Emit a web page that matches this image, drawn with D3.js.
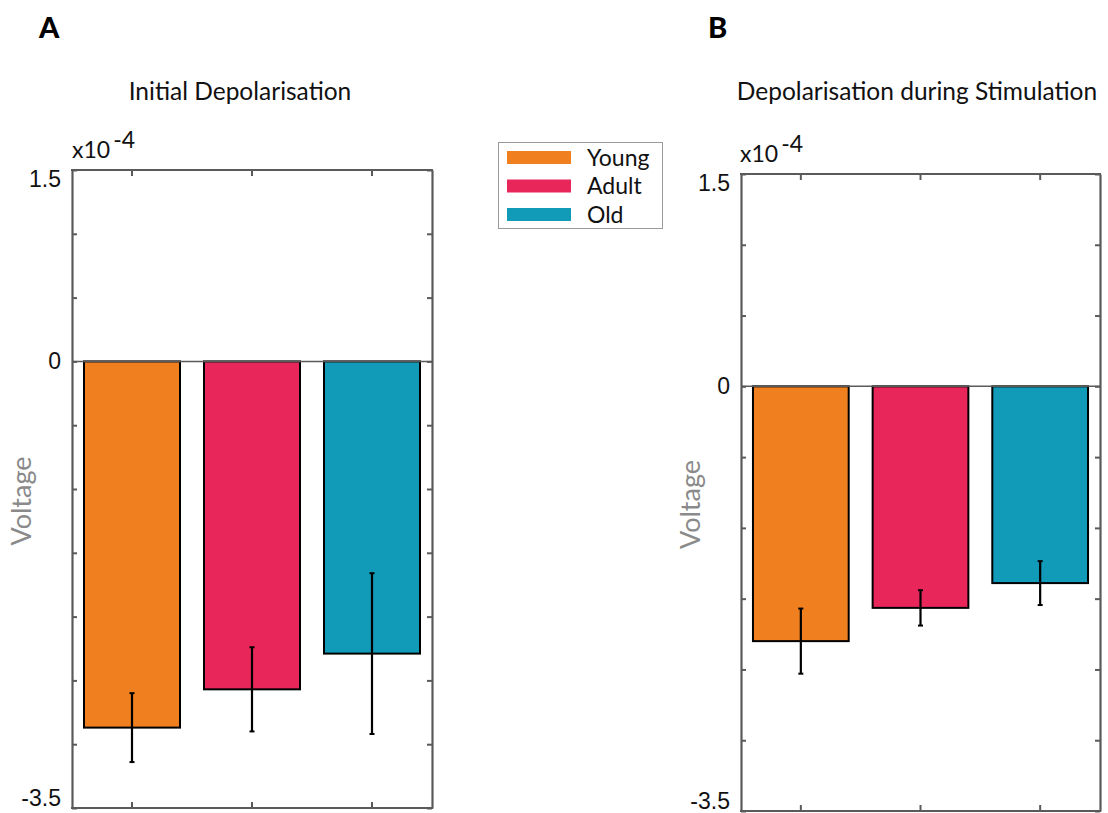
<!DOCTYPE html>
<html>
<head>
<meta charset="utf-8">
<script src="https://cdn.jsdelivr.net/npm/d3@7"></script>
<style>
  html, body { margin: 0; padding: 0; background: #fff; }
  svg { display: block; font-family: "Lato", "Noto Sans", sans-serif; }
</style>
</head>
<body>
<svg id="chart" width="1108" height="813"></svg>
<script>
// Groups and colours
const groups = ["Young", "Adult", "Old"];
const groupColors = ["#EF7F1F", "#E8265A", "#119BB8"];

// Panel A: initial depolarisation (units of 1e-4 V)
const initialMean = [-2.87, -2.57, -2.29];
const initialErr = [0.27, 0.33, 0.63];

// Panel B: depolarisation during stimulation (units of 1e-4 V)
const stimMean = [-1.80, -1.565, -1.39];
const stimErr = [0.23, 0.125, 0.155];

// Axis ticks and their labels
const ticksA = [-3.5, -3.0, -2.5, -2.0, -1.5, -1.0, -0.5, 0, 0.5, 1.0, 1.5];
const tickLabelsA = ["-3.5", "", "", "", "", "", "", "0", "", "", "1.5"];
const ticksB = [-3.0, -2.5, -2.0, -1.5, -1.0, -0.5, 0, 0.5, 1.0, 1.5];
const tickLabelsB = ["-3.5", "", "", "", "", "", "0", "", "", "1.5"];

const svg = d3.select("#chart");
const axisColor = "#5a5a5a";

function drawPanel(opts) {
  const { left, right, top, bottom, yDomain, means, errs, ticks, tickLabels,
          title, titleX, letter, letterX, expX, expY } = opts;

  const x = d3.scaleBand().domain(groups).range([left, right]).paddingInner(0.2).paddingOuter(0.1);
  const xc = d => x(d) + x.bandwidth() / 2;
  const y = d3.scaleLinear().domain(yDomain).range([bottom, top]);

  const g = svg.append("g");

  // Bars
  g.selectAll("rect.bar")
    .data(groups)
    .join("rect")
    .attr("class", "bar")
    .attr("x", d => x(d))
    .attr("width", x.bandwidth())
    .attr("y", (d, i) => Math.min(y(0), y(means[i])))
    .attr("height", (d, i) => Math.abs(y(means[i]) - y(0)))
    .attr("fill", (d, i) => groupColors[i])
    .attr("stroke", "#000")
    .attr("stroke-width", 2);

  // Zero baseline
  g.append("line")
    .attr("x1", left).attr("x2", right)
    .attr("y1", y(0)).attr("y2", y(0))
    .attr("stroke", axisColor).attr("stroke-width", 1.5);

  // Error bars
  const eb = g.selectAll("g.err").data(groups).join("g").attr("class", "err");
  eb.append("line")
    .attr("x1", d => xc(d)).attr("x2", d => xc(d))
    .attr("y1", (d, i) => y(means[i] - errs[i]))
    .attr("y2", (d, i) => y(means[i] + errs[i]))
    .attr("stroke", "#000").attr("stroke-width", 2.2);
  [-1, 1].forEach(s => {
    eb.append("line")
      .attr("x1", d => xc(d) - 2.5).attr("x2", d => xc(d) + 2.5)
      .attr("y1", (d, i) => y(means[i] + s * errs[i]))
      .attr("y2", (d, i) => y(means[i] + s * errs[i]))
      .attr("stroke", "#000").attr("stroke-width", 2);
  });

  // Left axis with tick labels
  const yAxisL = d3.axisLeft(y).tickValues(ticks)
    .tickFormat((d, i) => tickLabels[i]).tickSizeInner(-5).tickSizeOuter(0).tickPadding(11);
  const gl = g.append("g").attr("transform", `translate(${left},0)`).call(yAxisL);
  gl.selectAll("text")
    .attr("font-size", 23).attr("fill", "#111")
    .attr("dy", d => d === yDomain[1] ? "0.72em" : d === yDomain[0] ? "-0.12em" : "0.32em");

  // Right, top and bottom box edges with ticks
  const yAxisR = d3.axisRight(y).tickValues(ticks).tickFormat("").tickSizeInner(-5).tickSizeOuter(0);
  const gr = g.append("g").attr("transform", `translate(${right},0)`).call(yAxisR);
  const xAxisB = d3.axisBottom(x).tickFormat("").tickSizeInner(-6).tickSizeOuter(0);
  const gb = g.append("g").attr("transform", `translate(0,${bottom})`).call(xAxisB);
  const xAxisT = d3.axisTop(x).tickFormat("").tickSizeInner(-6).tickSizeOuter(0);
  const gt = g.append("g").attr("transform", `translate(0,${top})`).call(xAxisT);

  [gl, gr, gb, gt].forEach(a => {
    a.select(".domain").attr("stroke", axisColor).attr("stroke-width", 2.2);
    a.selectAll(".tick line").attr("stroke", axisColor).attr("stroke-width", 2);
  });
  // Extend the box to the full range
  gb.select(".domain").attr("d", `M${left - 1},0H${right + 1}`);
  gt.select(".domain").attr("d", `M${left - 1},0H${right + 1}`);

  // Y label
  g.append("text")
    .attr("transform", `translate(${left - 41},${(top + bottom) / 2 + 12}) rotate(-90)`)
    .attr("text-anchor", "middle")
    .attr("font-size", 27).attr("fill", "#8a8a8a")
    .text("Voltage");

  // Exponent label
  const ex = g.append("text").attr("x", expX).attr("y", expY).attr("font-size", 23).attr("fill", "#111");
  ex.append("tspan").text("x10");
  ex.append("tspan").attr("dx", 3).attr("dy", -10).text("-4");

  // Title
  g.append("text")
    .attr("x", titleX).attr("y", 100)
    .attr("text-anchor", "middle")
    .attr("font-size", 24.5).attr("fill", "#111")
    .text(title);

  // Panel letter
  svg.append("text")
    .attr("x", letterX).attr("y", 38)
    .attr("font-size", 29).attr("font-weight", 900).attr("fill", "#000")
    .text(letter);
}

drawPanel({
  left: 72, right: 432, top: 170, bottom: 808,
  yDomain: [-3.5, 1.5], means: initialMean, errs: initialErr,
  ticks: ticksA, tickLabels: tickLabelsA,
  title: "Initial Depolarisation", titleX: 240,
  letter: "A", letterX: 39, expX: 72, expY: 158
});

drawPanel({
  left: 741, right: 1100, top: 174, bottom: 811,
  yDomain: [-3.0, 1.5], means: stimMean, errs: stimErr,
  ticks: ticksB, tickLabels: tickLabelsB,
  title: "Depolarisation during Stimulation", titleX: 917,
  letter: "B", letterX: 708, expX: 740, expY: 162
});

// Legend
const legend = svg.append("g");
legend.append("rect")
  .attr("x", 498.5).attr("y", 142.5).attr("width", 164).attr("height", 86)
  .attr("fill", "#fff").attr("stroke", "#9a9a9a").attr("stroke-width", 1);
const legendY = d3.scalePoint().domain(groups).range([157.5, 214.5]);
const items = legend.selectAll("g.item").data(groups).join("g").attr("class", "item");
items.append("rect")
  .attr("x", 507).attr("width", 64)
  .attr("y", d => legendY(d) - 6.5).attr("height", 13)
  .attr("fill", (d, i) => groupColors[i]);
items.append("text")
  .attr("x", 587).attr("y", d => legendY(d))
  .attr("dy", "0.35em")
  .attr("font-size", 23).attr("fill", "#111")
  .text(d => d);
</script>
</body>
</html>
